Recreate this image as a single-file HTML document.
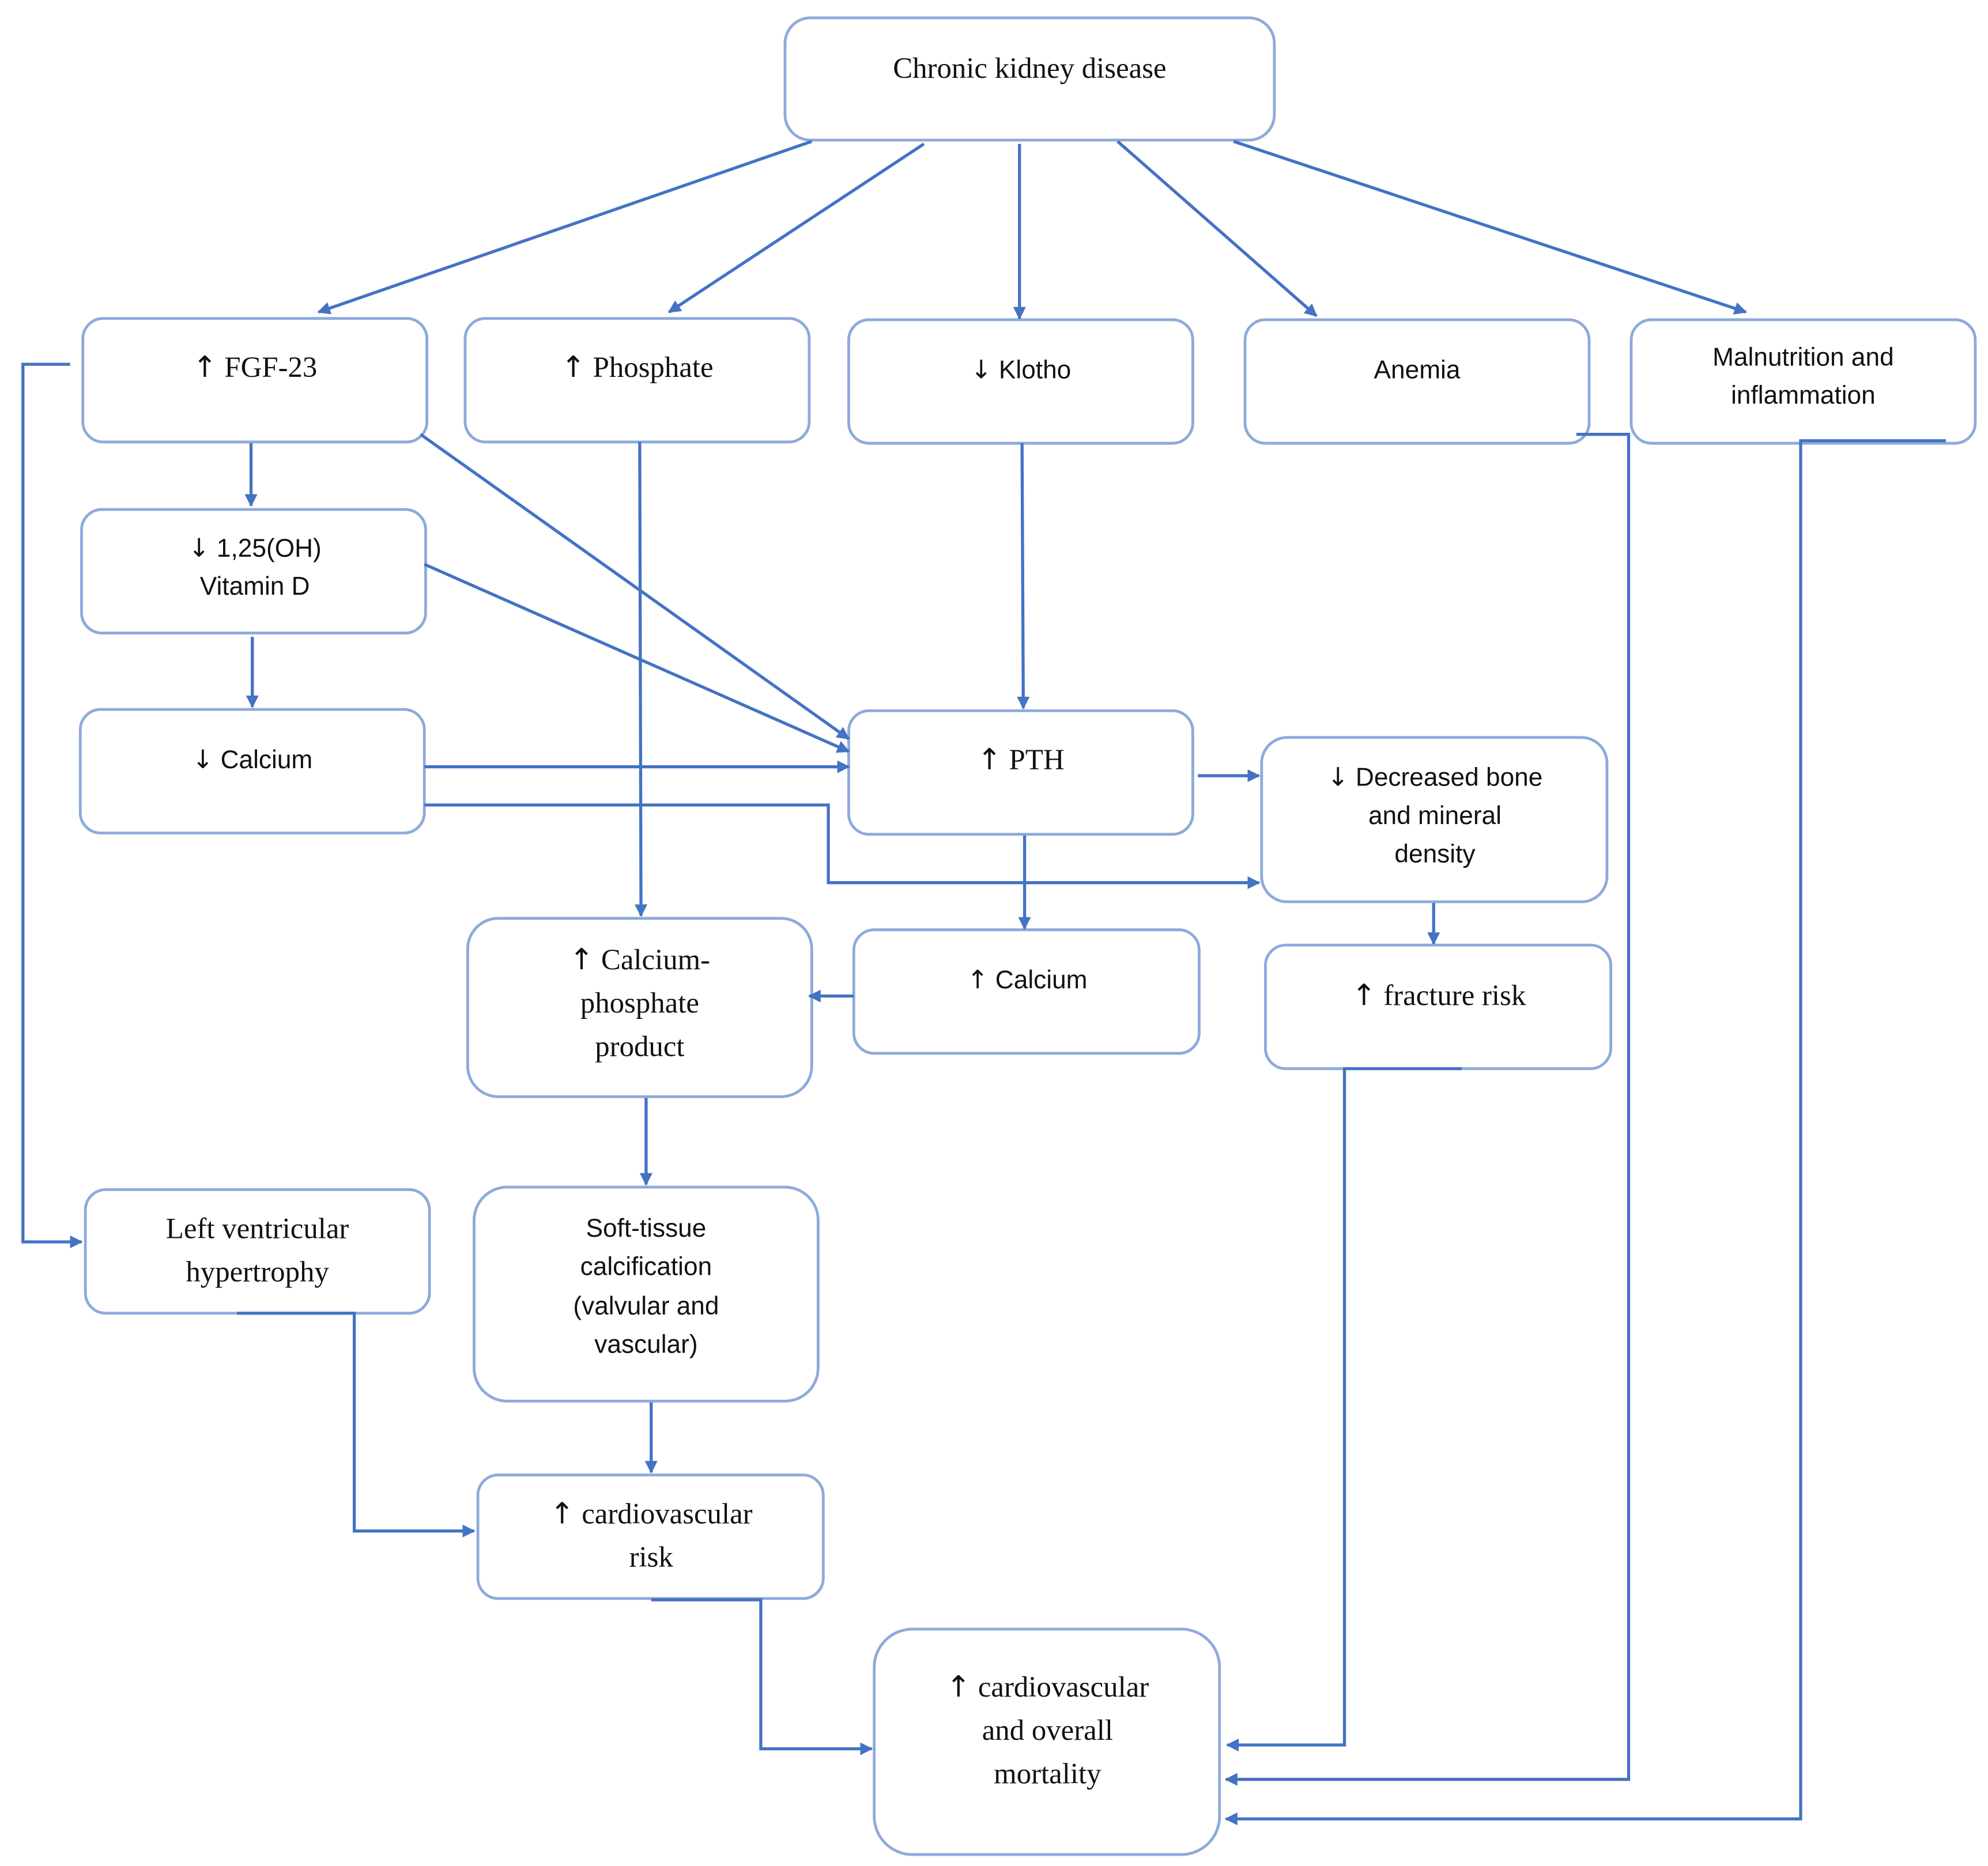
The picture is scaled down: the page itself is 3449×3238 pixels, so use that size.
<!DOCTYPE html>
<html><head><meta charset="utf-8"><style>
html,body{margin:0;padding:0;background:#fff;}
svg{display:block;}
.b{fill:#fff;stroke:#8eaadb;stroke-width:2.2;}
.l{fill:none;stroke:#4472c4;stroke-width:2.4;}
.s{font-family:"Liberation Serif",serif;font-size:23px;fill:#111;text-anchor:middle;}
.a{font-family:"Liberation Sans",sans-serif;font-size:20px;fill:#111;text-anchor:middle;}
.r{font-family:"DejaVu Sans",sans-serif;}
</style></head><body>
<svg width="3449" height="3238" viewBox="0 0 1560 1465" preserveAspectRatio="none" xmlns="http://www.w3.org/2000/svg">
<defs><marker id="m" markerWidth="10" markerHeight="10" refX="9" refY="5" orient="auto" markerUnits="userSpaceOnUse"><path d="M0,0 L10,5 L0,10 z" fill="#4472c4"/></marker></defs>
<rect class="b" x="616" y="14" width="384" height="96" rx="20"/>
<rect class="b" x="65" y="250" width="270" height="97" rx="16"/>
<rect class="b" x="365" y="250" width="270" height="97" rx="16"/>
<rect class="b" x="666" y="251" width="270" height="97" rx="16"/>
<rect class="b" x="977" y="251" width="270" height="97" rx="16"/>
<rect class="b" x="1280" y="251" width="270" height="97" rx="16"/>
<rect class="b" x="64" y="400" width="270" height="97" rx="16"/>
<rect class="b" x="63" y="557" width="270" height="97" rx="16"/>
<rect class="b" x="666" y="558" width="270" height="97" rx="16"/>
<rect class="b" x="990" y="579" width="271" height="129" rx="20"/>
<rect class="b" x="367" y="721" width="270" height="140" rx="24"/>
<rect class="b" x="670" y="730" width="271" height="97" rx="16"/>
<rect class="b" x="993" y="742" width="271" height="97" rx="16"/>
<rect class="b" x="67" y="934" width="270" height="97" rx="16"/>
<rect class="b" x="372" y="932" width="270" height="168" rx="26"/>
<rect class="b" x="375" y="1158" width="271" height="97" rx="16"/>
<rect class="b" x="686" y="1279" width="271" height="177" rx="30"/>

<g class="l">
<path d="M637,111 L250,245" marker-end="url(#m)"/>
<path d="M725,113 L525,245" marker-end="url(#m)"/>
<path d="M800,113 L800,250" marker-end="url(#m)"/>
<path d="M877,111 L1033,248" marker-end="url(#m)"/>
<path d="M968,111 L1370,245" marker-end="url(#m)"/>
<path d="M55,286 L18,286 L18,975 L64,975" marker-end="url(#m)"/>
<path d="M197,348 L197,397" marker-end="url(#m)"/>
<path d="M198,500 L198,555" marker-end="url(#m)"/>
<path d="M330,341 L666,580" marker-end="url(#m)"/>
<path d="M333,443 L666,590" marker-end="url(#m)"/>
<path d="M333,602 L666,602" marker-end="url(#m)"/>
<path d="M333,632 L650,632 L650,693 L988,693" marker-end="url(#m)"/>
<path d="M502,347 L503,719" marker-end="url(#m)"/>
<path d="M802,348 L803,556" marker-end="url(#m)"/>
<path d="M940,609 L988,609" marker-end="url(#m)"/>
<path d="M804,656 L804,729" marker-end="url(#m)"/>
<path d="M670,782 L635,782" marker-end="url(#m)"/>
<path d="M1125,709 L1125,741" marker-end="url(#m)"/>
<path d="M507,862 L507,930" marker-end="url(#m)"/>
<path d="M511,1101 L511,1156" marker-end="url(#m)"/>
<path d="M186,1031 L278,1031 L278,1202 L372,1202" marker-end="url(#m)"/>
<path d="M511,1256 L597,1256 L597,1373 L684,1373" marker-end="url(#m)"/>
<path d="M1147,839 L1055,839 L1055,1370 L963,1370" marker-end="url(#m)"/>
<path d="M1237,341 L1278,341 L1278,1397 L962,1397" marker-end="url(#m)"/>
<path d="M1527,346 L1413,346 L1413,1428 L962,1428" marker-end="url(#m)"/>
</g>

<text class="s" x="808" y="61">Chronic kidney disease</text>
<text class="s" x="200" y="296"><tspan class="r">↑</tspan> FGF-23</text>
<text class="s" x="500" y="296"><tspan class="r">↑</tspan> Phosphate</text>
<text class="a" x="801" y="297"><tspan class="r">↓</tspan> Klotho</text>
<text class="a" x="1112" y="297">Anemia</text>
<text class="a" x="1415" y="287">Malnutrition and</text>
<text class="a" x="1415" y="317">inflammation</text>
<text class="a" x="200" y="437"><tspan class="r">↓</tspan> 1,25(OH)</text>
<text class="a" x="200" y="467">Vitamin D</text>
<text class="a" x="198" y="603"><tspan class="r">↓</tspan> Calcium</text>
<text class="s" x="801" y="604"><tspan class="r">↑</tspan> PTH</text>
<text class="a" x="1126" y="617"><tspan class="r">↓</tspan> Decreased bone</text>
<text class="a" x="1126" y="647">and mineral</text>
<text class="a" x="1126" y="677">density</text>
<text class="s" x="502" y="761"><tspan class="r">↑</tspan> Calcium-</text>
<text class="s" x="502" y="795">phosphate</text>
<text class="s" x="502" y="829">product</text>
<text class="a" x="806" y="776"><tspan class="r">↑</tspan> Calcium</text>
<text class="s" x="1129" y="789"><tspan class="r">↑</tspan> fracture risk</text>
<text class="s" x="202" y="972">Left ventricular</text>
<text class="s" x="202" y="1006">hypertrophy</text>
<text class="a" x="507" y="971">Soft-tissue</text>
<text class="a" x="507" y="1001">calcification</text>
<text class="a" x="507" y="1032">(valvular and</text>
<text class="a" x="507" y="1062">vascular)</text>
<text class="s" x="511" y="1196"><tspan class="r">↑</tspan> cardiovascular</text>
<text class="s" x="511" y="1230">risk</text>
<text class="s" x="822" y="1332"><tspan class="r">↑</tspan> cardiovascular</text>
<text class="s" x="822" y="1366">and overall</text>
<text class="s" x="822" y="1400">mortality</text>
</svg>
</body></html>
